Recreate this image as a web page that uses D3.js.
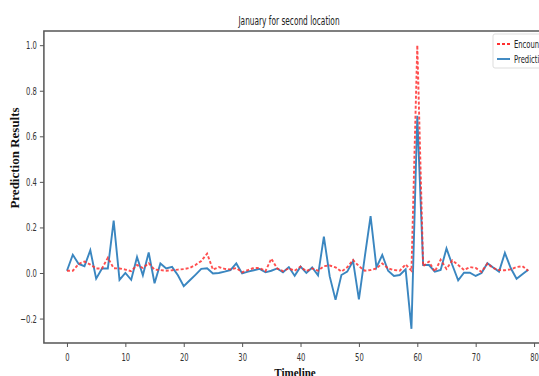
<!DOCTYPE html>
<html>
<head>
<meta charset="utf-8">
<script src="https://cdn.jsdelivr.net/npm/d3@7"></script>
<style>
  html, body { margin: 0; padding: 0; background: #fff; overflow: hidden; }
  svg { display: block; }
</style>
</head>
<body>
<svg id="chart" width="539" height="376"></svg>
<script>
// Daily encountered values and model predictions for the second location (January)
const timeline = d3.range(0, 80);
const encountered = [
  0.01, 0.01, 0.04, 0.05, 0.037, 0.02, 0.02, 0.067, 0.021, 0.02,
  0.015, 0.008, 0.035, 0.022, 0.043, 0.015, 0.013, 0.01, 0.012, 0.015,
  0.017, 0.022, 0.035, 0.053, 0.085, 0.015, 0.026, 0.018, 0.016, 0.022,
  0.003, 0.013, 0.022, 0.022, 0.008, 0.063, 0.02, 0.008, 0.02, 0.01,
  0.028, 0.008, 0.02, 0.01, 0.03, 0.033, 0.025, 0.006, 0.025, 0.057,
  0.03, 0.01, 0.013, 0.02, 0.042, 0.02, 0.013, 0.01, 0.038, 0.01,
  1.0, 0.03, 0.05, 0.006, 0.058, 0.018, 0.055, 0.035, 0.013, 0.026,
  0.022, 0.005, 0.041, 0.022, 0.013, 0.012, 0.016, 0.026, 0.03, 0.01
];
const prediction = [
  0.01, 0.08, 0.04, 0.03, 0.10, -0.025, 0.02, 0.02, 0.23, -0.03,
  0.0, -0.03, 0.07, -0.01, 0.09, -0.045, 0.042, 0.02, 0.027, -0.01,
  -0.058, -0.033, -0.008, 0.018, 0.021, -0.002, 0.0, 0.006, 0.013, 0.042,
  -0.002, 0.006, 0.012, 0.018, 0.003, 0.01, 0.02, 0.003, 0.026, -0.012,
  0.028, 0.0, 0.024, -0.01, 0.16, -0.015, -0.118, -0.009, 0.006, 0.052,
  -0.116, 0.07, 0.25, 0.025, 0.079, 0.01, -0.013, -0.009, 0.016, -0.245,
  0.69, 0.035, 0.035, 0.006, 0.013, 0.108, 0.035, -0.032, 0.001, 0.001,
  -0.013, 0.0, 0.043, 0.024, 0.006, 0.088, 0.022, -0.025, -0.005, 0.014
];
const xTicks = [0, 10, 20, 30, 40, 50, 60, 70, 80];
const yTicks = [-0.2, 0.0, 0.2, 0.4, 0.6, 0.8, 1.0];
const seriesNames = ["Encountered", "Prediction"];

const svg = d3.select("#chart");
const plot = { left: 43.9, right: 551.3, top: 31, bottom: 343 };
const squeeze = 0.62; // narrow glyphs for the labels

// 5% padding around the data range on both axes
const xMin = d3.min(timeline), xMax = d3.max(timeline);
const xPad = (xMax - xMin) * 0.05;
const yMin = d3.min(prediction.concat(encountered)), yMax = d3.max(prediction.concat(encountered));
const yPad = (yMax - yMin) * 0.05;

const x = d3.scaleLinear().domain([xMin - xPad, xMax + xPad]).range([plot.left, plot.right]);
const y = d3.scaleLinear().domain([yMin - yPad, yMax + yPad]).range([plot.bottom, plot.top]);

const axisColor = "#555";
const tickFont = "'DejaVu Sans', sans-serif";

// Axes
const xAxis = svg.append("g")
  .attr("transform", `translate(0,${plot.bottom})`)
  .call(d3.axisBottom(x).tickValues(xTicks).tickFormat(d3.format("d")).tickSize(4).tickPadding(4));
const yAxis = svg.append("g")
  .attr("transform", `translate(${plot.left},0)`)
  .call(d3.axisLeft(y).tickValues(yTicks).tickFormat(d3.format(".1f")).tickSize(4).tickPadding(4));

[xAxis, yAxis].forEach(g => {
  g.select(".domain").remove();
  g.selectAll(".tick line").attr("stroke", axisColor).attr("stroke-width", 1);
  g.selectAll(".tick text")
    .attr("fill", "#333")
    .style("font-family", tickFont)
    .style("font-size", "11px");
});
xAxis.selectAll(".tick text").attr("transform", `scale(${squeeze},1)`).attr("dy", "0.9em");
yAxis.selectAll(".tick text")
  .attr("x", -7 / squeeze)
  .attr("transform", `scale(${squeeze},1)`);

// Plot frame
svg.append("rect")
  .attr("x", plot.left).attr("y", plot.top)
  .attr("width", plot.right - plot.left).attr("height", plot.bottom - plot.top)
  .attr("fill", "none").attr("stroke", axisColor).attr("stroke-width", 1.5);

// Series lines
const line = d3.line().x((d, i) => x(timeline[i])).y(d => y(d));

svg.append("path")
  .datum(prediction)
  .attr("fill", "none")
  .attr("stroke", "#3a86c0")
  .attr("stroke-width", 1.9)
  .attr("stroke-linejoin", "miter")
  .attr("d", line);

svg.append("path")
  .datum(encountered)
  .attr("fill", "none")
  .attr("stroke", "#ff3030")
  .attr("stroke-opacity", 0.85)
  .attr("stroke-width", 1.9)
  .attr("stroke-dasharray", "3,2")
  .attr("d", line);

// Title
svg.append("text")
  .attr("transform", `translate(289,25) scale(0.57,1)`)
  .attr("text-anchor", "middle")
  .style("font-family", tickFont)
  .style("font-size", "13px")
  .attr("fill", "#222")
  .text("January for second location");

// Axis titles
svg.append("text")
  .attr("transform", `translate(19,158) rotate(-90)`)
  .attr("text-anchor", "middle")
  .style("font-family", "'Liberation Serif', serif")
  .style("font-weight", "bold")
  .style("font-size", "13px")
  .attr("fill", "#111")
  .text("Prediction Results");

svg.append("text")
  .attr("transform", `translate(295,377) scale(0.85,1)`)
  .attr("text-anchor", "middle")
  .style("font-family", "'Liberation Serif', serif")
  .style("font-weight", "bold")
  .style("font-size", "13px")
  .attr("fill", "#111")
  .text("Timeline");

// Legend
const legend = svg.append("g").attr("transform", "translate(493,34)");
legend.append("rect")
  .attr("x", 0).attr("y", 0).attr("width", 80).attr("height", 34).attr("rx", 2)
  .attr("fill", "#fff").attr("fill-opacity", 0.9)
  .attr("stroke", "#ddd").attr("stroke-width", 1);
const legendStyles = [
  { color: "#ff3030", dash: "3,2" },
  { color: "#3a86c0", dash: null }
];
seriesNames.forEach((name, i) => {
  const yy = 10 + i * 15;
  legend.append("line")
    .attr("x1", 4).attr("x2", 17).attr("y1", yy).attr("y2", yy)
    .attr("stroke", legendStyles[i].color)
    .attr("stroke-width", 1.9)
    .attr("stroke-dasharray", legendStyles[i].dash);
  legend.append("text")
    .attr("transform", `translate(21,${yy + 4}) scale(${squeeze},1)`)
    .style("font-family", tickFont)
    .style("font-size", "11px")
    .attr("fill", "#222")
    .text(name);
});
</script>
</body>
</html>
